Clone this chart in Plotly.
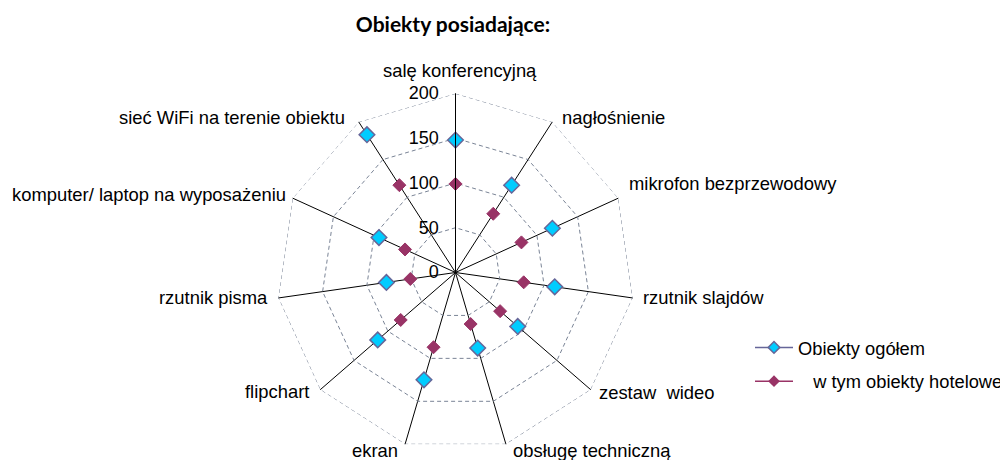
import math
import plotly.graph_objects as go

categories = [
    "salę konferencyjną",
    "nagłośnienie",
    "mikrofon bezprzewodowy",
    "rzutnik slajdów",
    "zestaw  wideo",
    "obsługę techniczną",
    "ekran",
    "flipchart",
    "rzutnik pisma",
    "komputer/ laptop na wyposażeniu",
    "sieć WiFi na terenie obiektu",
]
ogolem = [148, 116, 119, 112, 92, 88, 125, 115, 78, 94, 183]
hotelowe = [99, 78, 81, 77, 66, 60, 87, 81, 51, 62, 116]
radial_ticks = [0, 50, 100, 150, 200]

series_names = ["Obiekty ogółem", "   w tym obiekty hotelowe"]

W, H = 1008, 460
# page body has an 8px margin; positions below are in figure pixels
cx, cy, R = 447.5, 264.5, 179
LABEL_FONT = 18.4
GRID_COLOR = "#7A8496"
GRID_DASH = "4px,3px"

# category label placement relative to each spoke's outer end (Excel-like layout)
label_layout = [
    ("center", 4, -23),
    ("left", 8, -4),
    ("left", 9, -15),
    ("left", 8, 0),
    ("left", 6, 3),
    ("left", 5, 6),
    ("right", -5, 6),
    ("right", -9, 2),
    ("right", -8, 0),
    ("right", -5, -4),
    ("right", -12, -4),
]

fig = go.Figure()

# outer (200) gridline polygon
fig.add_trace(go.Scatterpolar(
    r=[radial_ticks[-1]] * (len(categories) + 1),
    theta=categories + [categories[0]],
    mode="lines", showlegend=False, hoverinfo="skip",
    line=dict(color=GRID_COLOR, width=1, dash=GRID_DASH),
))
fig.add_trace(go.Scatterpolar(
    r=ogolem, theta=categories, mode="markers", showlegend=False,
    marker=dict(symbol="diamond", size=12, color="#00CCFF",
                line=dict(color="#666699", width=1.5)),
))
fig.add_trace(go.Scatterpolar(
    r=hotelowe, theta=categories, mode="markers", showlegend=False,
    marker=dict(symbol="diamond", size=10, color="#993366",
                line=dict(color="#993366", width=1)),
))
# legend entries (line + marker samples)
fig.add_trace(go.Scatterpolar(
    r=[None], theta=[categories[0]], mode="lines+markers", name=series_names[0],
    legendgroup="a",
    line=dict(color="#666699", width=1.5),
    marker=dict(symbol="diamond", size=9, color="#00CCFF",
                line=dict(color="#666699", width=1.5)),
))
fig.add_trace(go.Scatterpolar(
    r=[None], theta=[categories[0]], mode="lines+markers", name=series_names[1],
    legendgroup="b",
    line=dict(color="#993366", width=1.5),
    marker=dict(symbol="diamond", size=9, color="#993366"),
))

annotations = []
n = len(categories)
for i, name in enumerate(categories):
    ang = 2 * math.pi * i / n
    vx = cx + R * math.sin(ang)
    vy = cy - R * math.cos(ang)
    anchor, dx, dy = label_layout[i]
    annotations.append(dict(
        text=name, x=(vx + dx) / W, y=1 - (vy + dy) / H, xref="paper", yref="paper",
        xanchor=anchor, yanchor="middle", showarrow=False,
        font=dict(size=LABEL_FONT, color="black"),
    ))

fig.update_layout(
    width=W, height=H,
    margin=dict(l=0, r=0, t=0, b=0),
    paper_bgcolor="white",
    font=dict(family="Liberation Sans, Arial, sans-serif", color="black"),
    title=dict(text="<b>Obiekty posiadające:</b>", x=445 / W, xanchor="center",
               y=1 - 17 / H, yanchor="middle",
               font=dict(family="Lato, Open Sans, sans-serif", size=21, color="black")),
    polar=dict(
        domain=dict(x=[(cx - R) / W, (cx + R) / W],
                    y=[(H - cy - R) / H, (H - cy + R) / H]),
        bgcolor="white",
        gridshape="linear",
        radialaxis=dict(
            range=[0, 200], tickvals=radial_ticks,
            ticktext=[f"{v}\u00a0\u00a0" for v in radial_ticks],
            angle=90, tickangle=90,
            side="counterclockwise", showline=True, linecolor="black", linewidth=1,
            gridcolor=GRID_COLOR, griddash=GRID_DASH, gridwidth=1,
            ticks="", tickfont=dict(size=18, color="black"),
        ),
        angularaxis=dict(
            rotation=90, direction="clockwise",
            showticklabels=False,
            showline=False, gridcolor="black", gridwidth=1,
            ticks="",
        ),
    ),
    annotations=annotations,
    legend=dict(x=742 / W, y=1 - 321 / H, xanchor="left", yanchor="top",
                font=dict(size=18.3, color="black"), tracegroupgap=7,
                itemwidth=38, bgcolor="rgba(0,0,0,0)"),
)

fig.write_html("out.html")
